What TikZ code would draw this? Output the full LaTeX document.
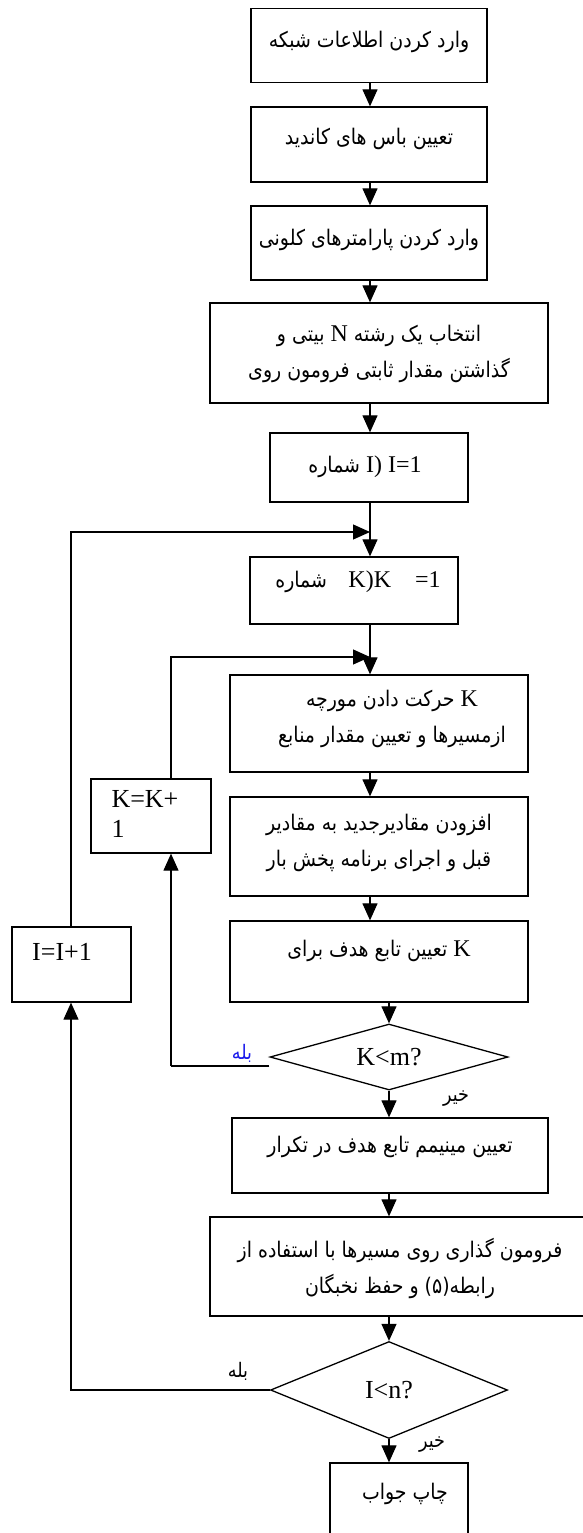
\documentclass[tikz,border=0pt]{standalone}
\usepackage{fontspec}
\setmainfont{Liberation Serif}
\newfontfamily\fa[Script=Arabic,FakeStretch=0.88]{DejaVu Sans}
\TeXXeTstate=1
\usetikzlibrary{arrows.meta,shapes.geometric,calc}
\definecolor{yesblue}{RGB}{25,25,235}
\newcommand{\lt}[1]{{\fontsize{24}{36}\rmfamily #1}}

\begin{document}
\begin{tikzpicture}[x=1pt,y=-1pt,
  blk/.style 2 args={draw,line width=1.3pt,minimum width=#1pt,minimum height=#2pt,inner sep=0pt},
  dmd/.style 2 args={draw,diamond,line width=1.3pt,minimum width=#1pt,minimum height=#2pt,inner sep=0pt},
  arr/.style={line width=1.2pt,-{Triangle[length=17pt,width=15pt]}},
  ln/.style={line width=1.2pt},
  lat/.style={font=\fontsize{26}{30}\selectfont},
  fas/.style={font=\fontsize{21.5}{36}\fa,align=center},
  lbl/.style={font=\fontsize{20}{22}\fa}]
\useasboundingbox (0,0) rectangle (583,1533);
\coordinate (c1) at (370,0); \coordinate (c2) at (389,0);
% main column
\node[blk={236}{74}] (b1) at (369,45.5) {};
\node[blk={236}{75}] (b2) at (369,144.5) {};
\node[blk={236}{74}] (b3) at (369,243) {};
\node[blk={338}{100}] (b4) at (379,353) {};
\node[blk={198}{69}] (b5) at (369,467.5) {};
\node[blk={208}{67}] (b6) at (354,590.5) {};
\node[blk={298}{97}] (b7) at (379,723.5) {};
\node[blk={298}{99}] (b8) at (379,846.5) {};
\node[blk={298}{81}] (b9) at (379,961.5) {};
\node[dmd={238}{66}] (dk) at (389,1057) {};
\node[blk={316}{75}] (b10) at (390,1155.5) {};
\node[blk={380}{99}] (b11) at (400,1266.5) {};
\node[dmd={237}{97}] (di) at (389,1390) {};
\node[blk={138}{82}] (b12) at (399,1504) {};
\node[blk={120}{74}] (kk) at (151,816) {};
\node[blk={119}{75}] (ii) at (71.5,964.5) {};
% texts
\node[fas] (t1) at (369,42) {\beginR وارد کردن اطلاعات شبکه\endR};
\node[fas] (t2) at (369,139) {\beginR تعیین باس های کاندید\endR};
\node[fas] (t3) at (369,240) {\beginR وارد کردن پارامترهای کلونی\endR};
\node[fas] (t4) at (379,354) {\beginR انتخاب یک رشته \lt{N} بیتی و\endR\\
  \beginR گذاشتن مقدار ثابتی فرومون روی\endR};
\node[fas] (t5) at (365,467) {\beginR شماره\endR\ \lt{I) I=1}};
\node[fas] (t6) at (358,582) {\beginR شماره\endR\quad\lt{K)K\quad =1}};
\node[fas] (t7) at (392,719) {\beginR حرکت دادن مورچه\endR\ \lt{K}\\
  \beginR ازمسیرها و تعیین مقدار منابع\endR};
\node[fas] (t8) at (379,843) {\beginR افزودن مقادیرجدید به مقادیر\endR\\
  \beginR قبل و اجرای برنامه پخش بار\endR};
\node[fas] (t9) at (379,951) {\beginR تعیین تابع هدف برای\endR\ \lt{K}};
\node[lat] (tk) at (389,1057) {K<m?};
\node[fas] (t10) at (390,1147) {\beginR تعیین مینیمم تابع هدف در تکرار\endR};
\node[fas] (t11) at (400,1268) {\beginR فرومون گذاری روی مسیرها با استفاده از\endR\\
  \beginR و حفظ نخبگان\endR\ (۵)\beginR رابطه\endR};
\node[lat] (ti) at (389,1390) {I<n?};
\node[fas] (t12) at (405,1494) {\beginR چاپ جواب\endR};
\node[lat,align=left,anchor=north west] (tkk) at (108,787) {K=K+\\1};
\node[lat] (tii) at (62,952) {I=I+1};
% branch labels
\node[lbl,text=yesblue] (y1) at (242,1053) {بله};
\node[lbl] (n1) at (456,1099) {خیر};
\node[lbl] (y2) at (238,1371) {بله};
\node[lbl] (n2) at (432,1445) {خیر};
% connectors
\foreach \a/\b in {b1/b2,b2/b3,b3/b4,b4/b5,b5/b6,b6/b7,b7/b8,b8/b9}
  \draw[arr] (\a.south-|c1) -- (\b.north-|c1);
\foreach \a/\b in {b9/dk,dk/b10,b10/b11,b11/di,di/b12}
  \draw[arr] (\a.south-|c2) -- (\b.north-|c2);
% K loop
\coordinate (kj) at (370,657); \coordinate (kx) at (171,0);
\coordinate (kw) at ($(dk.west)+(0,9)$);
\draw[ln] (kw) -- (kw-|kx) coordinate (kb);
\draw[arr] (kb) -- (kk.south-|kx);
\draw[arr] (kk.north-|kx) |- (kj);
% I loop
\coordinate (ij) at (370,532); \coordinate (ix) at (71,0);
\draw[arr] (di.west) -| (ii.south-|ix);
\draw[arr] (ii.north-|ix) |- (ij);
\end{tikzpicture}
\end{document}
